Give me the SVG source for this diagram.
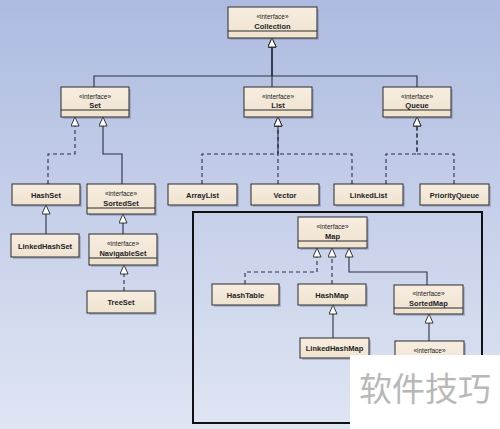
<svg xmlns="http://www.w3.org/2000/svg" width="500" height="429" viewBox="0 0 500 429">
<defs>
<linearGradient id="bg" x1="0" y1="0" x2="0" y2="1">
<stop offset="0" stop-color="#aebbe0"/>
<stop offset="1" stop-color="#dfe5f3"/>
</linearGradient>
<linearGradient id="nf" x1="0" y1="0" x2="0" y2="1">
<stop offset="0" stop-color="#f7ede0"/>
<stop offset="1" stop-color="#efe3cf"/>
</linearGradient>
<marker id="tri" viewBox="0 0 10 10" refX="10" refY="5" markerUnits="userSpaceOnUse" markerWidth="11" markerHeight="9" orient="auto">
<path d="M0,0.5 L10,5 L0,9.5 Z" fill="#fff" stroke="#222" stroke-width="1" stroke-dasharray="none"/>
</marker>
</defs>
<style>
.sh{fill:#7f88a8;opacity:0.45}
.bx{fill:url(#nf);stroke:#2a2a2a;stroke-width:1}
.dv{stroke:#2a2a2a;stroke-width:1}
.st{font-family:"Liberation Sans",Arial,sans-serif;font-size:6.5px;fill:#222;text-anchor:middle}
.nm{font-family:"Liberation Sans",Arial,sans-serif;font-size:7.5px;font-weight:bold;fill:#222;text-anchor:middle}
.c{fill:none;stroke:#2a3040;stroke-width:1.1;marker-end:url(#tri)}
.d{stroke-dasharray:4,3}
</style>
<rect x="0" y="0" width="500" height="429" fill="url(#bg)"/>
<rect x="193" y="212" width="289" height="211" fill="none" stroke="#111" stroke-width="2"/>

<g id="connectors">
<path class="c" d="M94,87 V76 H272 V38"/>
<path class="c" d="M272,87 V38"/>
<path class="c" d="M417,87 V76 H272 V38"/>
<path class="c d" d="M48,184 V154 H75 V117"/>
<path class="c" d="M122,184 V154 H103 V117"/>
<path class="c d" d="M202,184 V154 H278 V117"/>
<path class="c d" d="M278,184 V117"/>
<path class="c d" d="M352,184 V154 H278 V117"/>
<path class="c d" d="M386,184 V154 H417 V117"/>
<path class="c d" d="M454,184 V154 H417 V117"/>
<path class="c" d="M46,234 V205"/>
<path class="c" d="M123,234 V214"/>
<path class="c d" d="M124,291 V265"/>
<path class="c d" d="M245,284 V272 H317 V248"/>
<path class="c d" d="M332,284 V248"/>
<path class="c" d="M427,285 V272 H349 V248"/>
<path class="c" d="M333,338 V305"/>
<path class="c" d="M429,341 V314"/>
</g>

<g id="Collection">
<rect class="sh" x="230" y="9" width="89" height="31"/>
<rect class="bx" x="228" y="7" width="89" height="31"/>
<line class="dv" x1="228" y1="31" x2="317" y2="31"/>
<text class="st" x="272.5" y="19">«interface»</text>
<text class="nm" x="272.5" y="28.5">Collection</text>
</g>

<g id="Set">
<rect class="sh" x="63" y="89" width="68" height="30"/>
<rect class="bx" x="61" y="87" width="68" height="30"/>
<line class="dv" x1="61" y1="110" x2="129" y2="110"/>
<text class="st" x="95" y="99">«interface»</text>
<text class="nm" x="95" y="108">Set</text>
</g>

<g id="List">
<rect class="sh" x="246" y="89" width="68" height="30"/>
<rect class="bx" x="244" y="87" width="68" height="30"/>
<line class="dv" x1="244" y1="110" x2="312" y2="110"/>
<text class="st" x="278" y="99">«interface»</text>
<text class="nm" x="278" y="108">List</text>
</g>

<g id="Queue">
<rect class="sh" x="385" y="89" width="68" height="30"/>
<rect class="bx" x="383" y="87" width="68" height="30"/>
<line class="dv" x1="383" y1="110" x2="451" y2="110"/>
<text class="st" x="417" y="99">«interface»</text>
<text class="nm" x="417" y="108">Queue</text>
</g>

<g id="HashSet">
<rect class="sh" x="14" y="186" width="68" height="21"/>
<rect class="bx" x="12" y="184" width="68" height="21"/>
<text class="nm" x="46" y="197.5">HashSet</text>
</g>

<g id="SortedSet">
<rect class="sh" x="89" y="186" width="68" height="30"/>
<rect class="bx" x="87" y="184" width="68" height="30"/>
<line class="dv" x1="87" y1="208" x2="155" y2="208"/>
<text class="st" x="121" y="196">«interface»</text>
<text class="nm" x="121" y="205.5">SortedSet</text>
</g>

<g id="ArrayList">
<rect class="sh" x="170" y="186" width="69" height="21"/>
<rect class="bx" x="168" y="184" width="69" height="21"/>
<text class="nm" x="202.5" y="197.5">ArrayList</text>
</g>

<g id="Vector">
<rect class="sh" x="253" y="186" width="68" height="21"/>
<rect class="bx" x="251" y="184" width="68" height="21"/>
<text class="nm" x="285" y="197.5">Vector</text>
</g>

<g id="LinkedList">
<rect class="sh" x="336" y="186" width="69" height="21"/>
<rect class="bx" x="334" y="184" width="69" height="21"/>
<text class="nm" x="368.5" y="197.5">LinkedList</text>
</g>

<g id="PriorityQueue">
<rect class="sh" x="422" y="186" width="69" height="21"/>
<rect class="bx" x="420" y="184" width="69" height="21"/>
<text class="nm" x="454.5" y="197.5">PriorityQueue</text>
</g>

<g id="LinkedHashSet">
<rect class="sh" x="13" y="236" width="68" height="23"/>
<rect class="bx" x="11" y="234" width="68" height="23"/>
<text class="nm" x="45" y="248.5">LinkedHashSet</text>
</g>

<g id="NavigableSet">
<rect class="sh" x="91" y="236" width="68" height="31"/>
<rect class="bx" x="89" y="234" width="68" height="31"/>
<line class="dv" x1="89" y1="258" x2="157" y2="258"/>
<text class="st" x="123" y="246">«interface»</text>
<text class="nm" x="123" y="255.5">NavigableSet</text>
</g>

<g id="TreeSet">
<rect class="sh" x="89" y="293" width="68" height="22"/>
<rect class="bx" x="87" y="291" width="68" height="22"/>
<text class="nm" x="121" y="305">TreeSet</text>
</g>

<g id="Map">
<rect class="sh" x="300" y="219" width="69" height="31"/>
<rect class="bx" x="298" y="217" width="69" height="31"/>
<line class="dv" x1="298" y1="241" x2="367" y2="241"/>
<text class="st" x="332.5" y="229">«interface»</text>
<text class="nm" x="332.5" y="238.5">Map</text>
</g>

<g id="HashTable">
<rect class="sh" x="214" y="286" width="67" height="21"/>
<rect class="bx" x="212" y="284" width="67" height="21"/>
<text class="nm" x="245.5" y="297.5">HashTable</text>
</g>

<g id="HashMap">
<rect class="sh" x="300" y="286" width="68" height="21"/>
<rect class="bx" x="298" y="284" width="68" height="21"/>
<text class="nm" x="332" y="297.5">HashMap</text>
</g>

<g id="SortedMap">
<rect class="sh" x="396" y="287" width="69" height="29"/>
<rect class="bx" x="394" y="285" width="69" height="29"/>
<line class="dv" x1="394" y1="308" x2="463" y2="308"/>
<text class="st" x="428.5" y="296">«interface»</text>
<text class="nm" x="428.5" y="305.5">SortedMap</text>
</g>

<g id="LinkedHashMap">
<rect class="sh" x="302" y="340" width="69" height="20"/>
<rect class="bx" x="300" y="338" width="69" height="20"/>
<text class="nm" x="334.5" y="351">LinkedHashMap</text>
</g>

<g id="NavigableMap">
<rect class="sh" x="397" y="343" width="69" height="31"/>
<rect class="bx" x="395" y="341" width="69" height="31"/>
<text class="st" x="429.5" y="353">«interface»</text>
</g>

<rect x="350" y="355" width="150" height="74" fill="#ffffff"/>
<text x="425" y="401" font-family="'Noto Sans CJK SC',sans-serif" font-size="33" fill="#b8b8b8" text-anchor="middle">软件技巧</text>
</svg>
